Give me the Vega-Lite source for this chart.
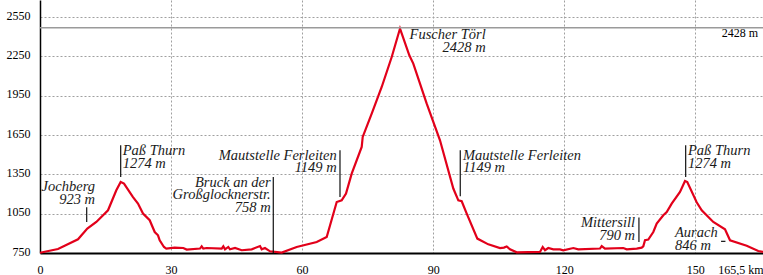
{
  "$schema": "https://vega.github.io/schema/vega-lite/v6.json",
  "width": 723,
  "height": 253,
  "autosize": {"type": "none"},
  "padding": {"left": 40, "right": 0, "top": 0, "bottom": 22},
  "background": "white",
  "config": {"view": {"stroke": null}},
  "datasets": {
    "profile": [
      {"km": 0, "elev": 752}, {"km": 4.12, "elev": 780}, {"km": 8.7, "elev": 855}, {"km": 10.83, "elev": 936},
      {"km": 12.89, "elev": 987}, {"km": 15.57, "elev": 1076}, {"km": 17.47, "elev": 1229}, {"km": 18.47, "elev": 1292},
      {"km": 19.23, "elev": 1280}, {"km": 21.29, "elev": 1177}, {"km": 22.43, "elev": 1127}, {"km": 23.58, "elev": 1051},
      {"km": 25.11, "elev": 1000}, {"km": 26.26, "elev": 910}, {"km": 27.01, "elev": 885}, {"km": 27.4, "elev": 847},
      {"km": 28.38, "elev": 796}, {"km": 28.91, "elev": 784}, {"km": 30.83, "elev": 791}, {"km": 32.8, "elev": 788},
      {"km": 33.58, "elev": 776}, {"km": 36.63, "elev": 784}, {"km": 37.01, "elev": 801}, {"km": 37.38, "elev": 784},
      {"km": 38.16, "elev": 788}, {"km": 41.59, "elev": 784}, {"km": 41.96, "elev": 801}, {"km": 42.35, "elev": 778},
      {"km": 43.1, "elev": 796}, {"km": 43.49, "elev": 778}, {"km": 44.64, "elev": 788}, {"km": 46.17, "elev": 771},
      {"km": 48.46, "elev": 778}, {"km": 50.36, "elev": 803}, {"km": 50.75, "elev": 778}, {"km": 51.5, "elev": 788},
      {"km": 52.65, "elev": 763}, {"km": 55.33, "elev": 753}, {"km": 58.76, "elev": 796}, {"km": 63.34, "elev": 834},
      {"km": 65.63, "elev": 872}, {"km": 67.92, "elev": 1139}, {"km": 69.06, "elev": 1152}, {"km": 70.05, "elev": 1203},
      {"km": 71.35, "elev": 1356}, {"km": 73.64, "elev": 1559}, {"km": 73.87, "elev": 1636}, {"km": 75.93, "elev": 1814},
      {"km": 78.22, "elev": 2017}, {"km": 80.51, "elev": 2246}, {"km": 82.41, "elev": 2463}, {"km": 84.54, "elev": 2259},
      {"km": 85.45, "elev": 2196}, {"km": 88.52, "elev": 1890}, {"km": 91.56, "elev": 1610}, {"km": 94.61, "elev": 1242},
      {"km": 95.76, "elev": 1152}, {"km": 96.53, "elev": 1145}, {"km": 97.68, "elev": 1051}, {"km": 100.11, "elev": 860},
      {"km": 102.62, "elev": 816}, {"km": 105.3, "elev": 788}, {"km": 106.2, "elev": 791}, {"km": 106.83, "elev": 800},
      {"km": 107.59, "elev": 778}, {"km": 109.12, "elev": 755}, {"km": 114.45, "elev": 758}, {"km": 115.07, "elev": 796},
      {"km": 115.6, "elev": 771}, {"km": 116.35, "elev": 788}, {"km": 117.5, "elev": 778}, {"km": 119.03, "elev": 778},
      {"km": 119.78, "elev": 771}, {"km": 122.08, "elev": 788}, {"km": 123.22, "elev": 778}, {"km": 128.19, "elev": 784},
      {"km": 128.58, "elev": 803}, {"km": 129.33, "elev": 784}, {"km": 133.52, "elev": 788}, {"km": 134.3, "elev": 778},
      {"km": 136.59, "elev": 784}, {"km": 137.73, "elev": 791}, {"km": 138.1, "elev": 801}, {"km": 138.49, "elev": 847},
      {"km": 139.24, "elev": 852}, {"km": 140.39, "elev": 910}, {"km": 141.17, "elev": 974}, {"km": 142.68, "elev": 1038},
      {"km": 143.46, "elev": 1063}, {"km": 144.6, "elev": 1127}, {"km": 146.5, "elev": 1216}, {"km": 147.65, "elev": 1300},
      {"km": 148.17, "elev": 1292}, {"km": 150.32, "elev": 1137}, {"km": 151.47, "elev": 1076}, {"km": 154.12, "elev": 987},
      {"km": 156.8, "elev": 931}, {"km": 157.95, "elev": 847}, {"km": 161.77, "elev": 805}, {"km": 164.42, "elev": 765},
      {"km": 165.5, "elev": 758}
    ],
    "markers": [
      {"km": 10.69, "lo": 987, "hi": 1099},
      {"km": 18.47, "lo": 1330, "hi": 1572},
      {"km": 53.4, "lo": 750, "hi": 1330},
      {"km": 68.67, "lo": 1177, "hi": 1534},
      {"km": 96.2, "lo": 1183, "hi": 1534},
      {"km": 137.1, "lo": 834, "hi": 1020},
      {"km": 147.8, "lo": 1330, "hi": 1572}
    ],
    "dash": [{"km": 155.9, "km2": 156.9, "elev": 839}],
    "notesRight": [
      {"km": 12.59, "elev": 1221, "label": "Jochberg\n923 m"},
      {"km": 52.81, "elev": 1254, "label": "Bruck an der\nGroßglocknerstr.\n758 m"},
      {"km": 67.92, "elev": 1463, "label": "Mautstelle Ferleiten\n1149 m"},
      {"km": 102.03, "elev": 2381, "label": "Fuscher Törl\n2428 m"},
      {"km": 136.2, "elev": 948, "label": "Mittersill\n790 m"}
    ],
    "notesLeft": [
      {"km": 18.93, "elev": 1496, "label": "Paß Thurn\n1274 m"},
      {"km": 96.83, "elev": 1463, "label": "Mautstelle Ferleiten\n1149 m"},
      {"km": 148.33, "elev": 1496, "label": "Paß Thurn\n1274 m"},
      {"km": 145.36, "elev": 872, "label": "Aurach\n846 m"}
    ],
    "topline": [{"elev": 2470}],
    "toplabel": [{"km": 164.4, "elev": 2400, "label": "2428 m"}]
  },
  "layer": [
    {
      "data": {"name": "profile"},
      "mark": {"type": "line", "color": "#e2001a", "strokeWidth": 2.2, "strokeJoin": "miter"},
      "encoding": {
        "x": {
          "field": "km", "type": "quantitative",
          "scale": {"domain": [0, 165.5], "nice": false, "zero": false},
          "axis": {
            "title": null,
            "values": [0, 30, 60, 90, 120, 150, 165.5],
            "grid": true, "gridDash": [2, 2], "gridColor": "#a0a0a0", "gridWidth": 1,
            "gridOpacity": {"condition": {"test": "datum.value == 0 || datum.value == 165.5", "value": 0}, "value": 1},
            "ticks": false,
            "domainColor": "#000", "domainWidth": 2,
            "labelFont": "Liberation Serif, DejaVu Serif, serif", "labelFontSize": 12, "labelColor": "#000",
            "labelPadding": 11,
            "labelExpr": "datum.value == 165.5 ? '165,5 km' : datum.label",
            "labelAlign": {"condition": {"test": "datum.value == 165.5", "value": "right"}, "value": "center"},
            "labelOverlap": false, "labelBound": false, "labelFlush": false
          }
        },
        "y": {
          "field": "elev", "type": "quantitative",
          "scale": {"domain": [750, 2681], "nice": false, "zero": false},
          "axis": {
            "title": null,
            "format": "d",
            "values": [750, 1050, 1350, 1650, 1950, 2250, 2550],
            "grid": true, "gridDash": [2, 2], "gridColor": "#a0a0a0", "gridWidth": 1,
            "gridOpacity": {"condition": {"test": "datum.value == 750", "value": 0}, "value": 1},
            "ticks": false,
            "domainColor": "#000", "domainWidth": 1.5,
            "labelFont": "Liberation Serif, DejaVu Serif, serif", "labelFontSize": 12, "labelColor": "#000",
            "labelPadding": 10, "labelOffset": -2
          }
        }
      }
    },
    {
      "data": {"name": "topline"},
      "mark": {"type": "rule", "color": "#9a9a9a", "strokeWidth": 1.5},
      "encoding": {"y": {"field": "elev", "type": "quantitative"}}
    },
    {
      "data": {"name": "toplabel"},
      "mark": {"type": "text", "align": "right", "baseline": "alphabetic", "font": "Liberation Serif, DejaVu Serif, serif", "fontSize": 12, "color": "#000"},
      "encoding": {
        "x": {"field": "km", "type": "quantitative"},
        "y": {"field": "elev", "type": "quantitative"},
        "text": {"field": "label", "type": "nominal"}
      }
    },
    {
      "data": {"name": "markers"},
      "mark": {"type": "rule", "color": "#111", "strokeWidth": 1.2},
      "encoding": {
        "x": {"field": "km", "type": "quantitative"},
        "y": {"field": "lo", "type": "quantitative"},
        "y2": {"field": "hi"}
      }
    },
    {
      "data": {"name": "dash"},
      "mark": {"type": "rule", "color": "#111", "strokeWidth": 1.2},
      "encoding": {
        "x": {"field": "km", "type": "quantitative"},
        "x2": {"field": "km2"},
        "y": {"field": "elev", "type": "quantitative"}
      }
    },
    {
      "data": {"name": "notesRight"},
      "mark": {"type": "text", "align": "right", "baseline": "alphabetic", "font": "Liberation Serif, DejaVu Serif, serif", "fontStyle": "italic", "fontSize": 14.5, "lineHeight": 12.5, "lineBreak": "\n", "color": "#1a1a1a"},
      "encoding": {
        "x": {"field": "km", "type": "quantitative"},
        "y": {"field": "elev", "type": "quantitative"},
        "text": {"field": "label", "type": "nominal"}
      }
    },
    {
      "data": {"name": "notesLeft"},
      "mark": {"type": "text", "align": "left", "baseline": "alphabetic", "font": "Liberation Serif, DejaVu Serif, serif", "fontStyle": "italic", "fontSize": 14.5, "lineHeight": 12.5, "lineBreak": "\n", "color": "#1a1a1a"},
      "encoding": {
        "x": {"field": "km", "type": "quantitative"},
        "y": {"field": "elev", "type": "quantitative"},
        "text": {"field": "label", "type": "nominal"}
      }
    }
  ]
}
